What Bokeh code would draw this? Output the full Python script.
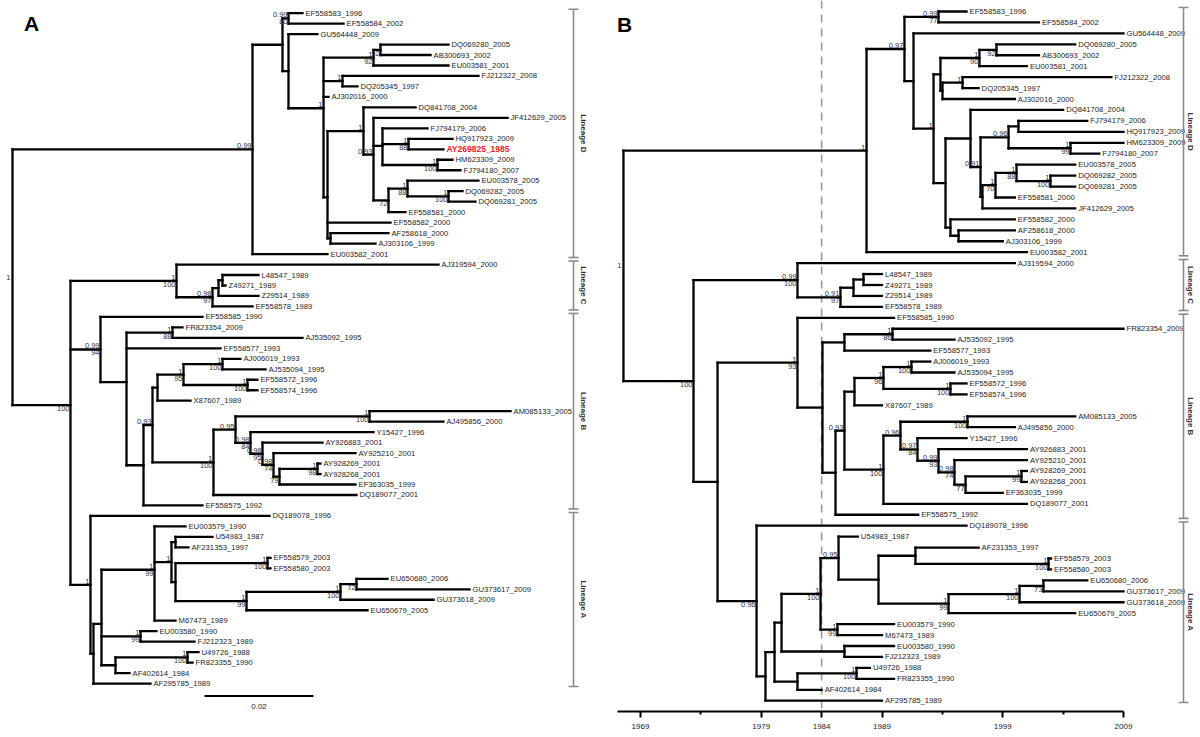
import math
from bokeh.plotting import figure
from bokeh.models import Range1d, FixedTicker
from bokeh.layouts import row
from bokeh.embed import file_html
from bokeh.resources import INLINE
from bokeh.core.properties import value


def T(name, x):
    return (name, x)


def N(x, pp, bs, *kids):
    return [x, pp, bs, list(kids)]


# ------------------------------------------------------------------ data
# Panel A: distances from root (substitutions / site)
A_LINEAGE_D = N(0.04404, "0.99", "",
    N(0.04954, "", "",
        N(0.05064, "0.99", "80", T("EF558583_1996", 0.05321), T("EF558584_2002", 0.06074)),
        N(0.05064, "", "",
            T("GU564448_2009", 0.05596),
            N(0.05707, "1", "",
                N(0.06624, "1", "92",
                    N(0.06752, "", "92", T("DQ069280_2005", 0.08000), T("AB300693_2002", 0.07670)),
                    T("EU003581_2001", 0.08000)),
                N(0.06055, "1", "", T("FJ212322_2008", 0.08550), T("DQ205345_1997", 0.06330)),
                T("AJ302016_2000", 0.05798),
                N(0.05780, "", "",
                    N(0.06440, "1", "",
                        T("DQ841708_2004", 0.07395),
                        N(0.06624, "0.93", "",
                            T("JF412629_2005", 0.09083),
                            N(0.06789, "", "",
                                T("FJ794179_2006", 0.07615),
                                N(0.07266, "1", "88", T("HQ917923_2009", 0.08073), T("AY269825_1985", 0.07908)),
                                N(0.07798, "1", "100", T("HM623309_2009", 0.08073), T("FJ794180_2007", 0.08220))),
                            N(0.06899, "", "72",
                                N(0.07248, "1", "88",
                                    T("EU003578_2005", 0.08550),
                                    N(0.08000, "1", "100", T("DQ069282_2005", 0.08257), T("DQ069281_2005", 0.08495))),
                                T("EF558581_2000", 0.07211)))),
                    T("EF558582_2000", 0.06936),
                    N(0.05835, "", "", T("AF258618_2000", 0.06899), T("AJ303106_1999", 0.06661)))))),
    T("EU003582_2001", 0.05780))

A_LINEAGE_C = N(0.03009, "1", "100",
    T("AJ319594_2000", 0.07817),
    N(0.03670, "0.98", "97",
        N(0.03780, "", "",
            N(0.03853, "", "", T("L48547_1989", 0.04514), T("Z49271_1989", 0.03908)),
            T("Z29514_1989", 0.04514)),
        T("EF558578_1989", 0.04404)))

A_LINEAGE_B = N(0.01615, "0.99", "94",
    T("EF558585_1990", 0.03486),
    N(0.02092, "", "",
        N(0.02936, "1", "88", T("FR823354_2009", 0.03119), T("AJ535092_1995", 0.05321)),
        T("EF558577_1993", 0.03817),
        N(0.02404, "", "",
            N(0.02569, "0.93", "",
                N(0.02661, "", "",
                    N(0.03138, "1", "95",
                        N(0.03853, "1", "100", T("AJ006019_1993", 0.04183), T("AJ535094_1995", 0.04642)),
                        N(0.04312, "1", "100", T("EF558572_1996", 0.04495), T("EF558574_1996", 0.04495))),
                    T("X87607_1989", 0.03266)),
                N(0.03688, "1", "100",
                    N(0.04092, "0.95", "",
                        N(0.06551, "1", "100", T("AM085133_2005", 0.09138), T("AJ495856_2000", 0.07908)),
                        N(0.04367, "0.98", "84",
                            T("Y15427_1996", 0.06624),
                            N(0.04587, "0.98", "95",
                                T("AY926883_2001", 0.05688),
                                N(0.04789, "0.98", "74",
                                    T("AY925210_2001", 0.06294),
                                    N(0.04899, "", "79",
                                        N(0.05596, "1", "98", T("AY928269_2001", 0.05651), T("AY928268_2001", 0.05651)),
                                        T("EF363035_1999", 0.06294)))))),
                    T("DQ189077_2001", 0.06312))),
            T("EF558575_1992", 0.03486))))

A_LINEAGE_A = N(0.01431, "1", "",
    T("DQ189078_1996", 0.04716),
    N(0.01486, "", "",
        N(0.01633, "", "",
            N(0.02606, "1", "99",
                T("EU003579_1990", 0.03174),
                N(0.02917, "1", "",
                    N(0.02991, "", "", T("U54983_1987", 0.03670), T("AF231353_1997", 0.03229)),
                    N(0.02991, "", "",
                        N(0.04679, "1", "100", T("EF558579_2003", 0.04734), T("EF558580_2003", 0.04734)),
                        N(0.04294, "1", "99",
                            N(0.06018, "1", "100",
                                N(0.06312, "", "72", T("EU650680_2006", 0.06881), T("GU373617_2009", 0.08385)),
                                T("GU373618_2009", 0.07725)),
                            T("EU650679_2005", 0.06514)))),
                T("M67473_1989", 0.02991)),
            N(0.02349, "1", "99", T("EU003580_1990", 0.02642), T("FJ212323_1989", 0.03339)),
            N(0.01890, "", "",
                N(0.03211, "1", "100", T("U49726_1988", 0.03413), T("FR823355_1990", 0.03303)),
                T("AF402614_1984", 0.02147))),
        T("AF295785_1989", 0.02532)))

A_ROOT = N(0.0, "1", "", A_LINEAGE_D, N(0.01064, "", "100", A_LINEAGE_C, A_LINEAGE_B, A_LINEAGE_A))

# Panel B: dated tree (calendar years)
B_LINEAGE_D = N(1987.72, "1", "",
    N(1990.86, "0.97", "",
        N(1993.68, "0.99", "77", T("EF558583_1996", 1996), T("EF558584_2002", 2002)),
        N(1991.61, "", "",
            T("GU564448_2009", 2009),
            N(1993.27, "1", "",
                N(1993.84, "", "",
                    N(1997.07, "1", "90",
                        N(1998.48, "", "92", T("DQ069280_2005", 2005), T("AB300693_2002", 2002)),
                        T("EU003581_2001", 2001)),
                    N(1994.01, "", "",
                        N(1995.67, "1", "", T("FJ212322_2008", 2008), T("DQ205345_1997", 1997)),
                        T("AJ302016_2000", 2000))),
                N(1994.26, "", "",
                    N(1996.33, "", "",
                        T("DQ841708_2004", 2004),
                        N(1997.16, "0.91", "",
                            N(1999.48, "0.96", "",
                                N(2000.30, "", "", T("FJ794179_2006", 2006), T("HQ917923_2009", 2009)),
                                N(2004.61, "1", "99", T("HM623309_2009", 2009), T("FJ794180_2007", 2007))),
                            N(1997.32, "", "",
                                N(1998.40, "1", "70",
                                    N(2000.14, "1", "88",
                                        T("EU003578_2005", 2005),
                                        N(2002.95, "1", "100", T("DQ069282_2005", 2005), T("DQ069281_2005", 2005))),
                                    T("EF558581_2000", 2000)),
                                T("JF412629_2005", 2005)))),
                    N(1994.67, "", "",
                        T("EF558582_2000", 2000),
                        N(1995.34, "", "", T("AF258618_2000", 2000), T("AJ303106_1999", 1999))))))),
    T("EU003582_2001", 2001))

B_LINEAGE_C = N(1982.0, "0.99", "100",
    T("AJ319594_2000", 2000),
    N(1985.56, "0.91", "97",
        N(1986.64, "", "",
            N(1987.47, "", "", T("L48547_1989", 1989), T("Z49271_1989", 1989)),
            T("Z29514_1989", 1989)),
        T("EF558578_1989", 1989)))

B_LINEAGE_B = N(1982.0, "1", "93",
    T("EF558585_1990", 1990),
    N(1984.07, "", "",
        N(1985.89, "", "",
            N(1989.87, "1", "86", T("FR823354_2009", 2009), T("AJ535092_1995", 1995)),
            T("EF558577_1993", 1993)),
        N(1985.15, "", "",
            N(1985.89, "0.93", "",
                N(1986.72, "", "",
                    N(1989.12, "1", "96",
                        N(1991.44, "1", "100", T("AJ006019_1993", 1993), T("AJ535094_1995", 1995)),
                        N(1994.67, "1", "100", T("EF558572_1996", 1996), T("EF558574_1996", 1996))),
                    T("X87607_1989", 1989)),
                N(1989.12, "1", "100",
                    N(1990.53, "0.96", "",
                        N(1996.08, "1", "100", T("AM085133_2005", 2005), T("AJ495856_2000", 2000)),
                        N(1991.94, "0.97", "84",
                            T("Y15427_1996", 1996),
                            N(1993.68, "0.99", "93",
                                T("AY926883_2001", 2001),
                                N(1995.0, "0.98", "74",
                                    T("AY925210_2001", 2001),
                                    N(1995.92, "", "77",
                                        N(2000.55, "1", "99", T("AY928269_2001", 2001), T("AY928268_2001", 2001)),
                                        T("EF363035_1999", 1999)))))),
                    T("DQ189077_2001", 2001))),
            T("EF558575_1992", 1992))))

B_LINEAGE_A = N(1978.61, "", "0.96",
    T("DQ189078_1996", 1996),
    N(1979.35, "", "",
        N(1980.10, "", "",
            N(1980.68, "", "",
                N(1983.91, "1", "100",
                    N(1985.40, "0.95", "",
                        T("U54983_1987", 1987),
                        N(1988.71, "", "",
                            N(1991.77, "", "",
                                T("AF231353_1997", 1997),
                                N(2002.79, "1", "100", T("EF558579_2003", 2003), T("EF558580_2003", 2003))),
                            N(1994.51, "1", "99",
                                N(2000.39, "1", "100",
                                    N(2002.37, "", "73", T("EU650680_2006", 2006), T("GU373617_2009", 2009)),
                                    T("GU373618_2009", 2009)),
                                T("EU650679_2005", 2005)))),
                    N(1985.31, "1", "99", T("EU003579_1990", 1990), T("M67473_1989", 1989))),
                N(1985.89, "", "", T("EU003580_1990", 1990), T("FJ212323_1989", 1989))),
            N(1982.0, "", "",
                N(1986.89, "1", "100", T("U49726_1988", 1988), T("FR823355_1990", 1990)),
                T("AF402614_1984", 1984))),
        T("AF295785_1989", 1989)))

B_ROOT = N(1967.59, "1", "",
    B_LINEAGE_D,
    N(1973.39, "", "100", B_LINEAGE_C, N(1975.38, "", "", B_LINEAGE_B, B_LINEAGE_A)))

LINEAGE_NAMES = ["Lineage D", "Lineage C", "Lineage B", "Lineage A"]
HIGHLIGHT = "AY269825_1985"
SCALE_BAR = 0.02
SCALE_LABEL = "0.02"
B_TICKS = [1969, 1979, 1984, 1989, 1999, 2009]
B_MINOR_TICKS = [1974, 1994, 2004]
B_CUTOFF_YEAR = 1984

# ------------------------------------------------------------------ style / layout
FONT = "Liberation Sans"
LW = 2.3
TIP_SIZE = "7.7px"
WA, WB, H = 600, 596, 733

# panel A mapping (px per unit, canvas px of root, row pitch, first row px)
A_PPU, A_X0PX, A_ROW, A_Y0PX = 109 / 0.02, 12.0, 10.8, 13.0
# panel B mapping (canvas px of 1969, row pitch, first row px, frame height)
B_PPY, B_X0PX, B_ROW, B_Y0PX, B_FRAME_H = 12.075, 40.0, 10.94, 11.0, 711


def build(root):
    tips, hs, vs, labs = [], [], [], []

    def walk(n):
        if isinstance(n, tuple):
            y = float(len(tips))
            tips.append((n[0], n[1], y))
            return n[1], y
        x, pp, bs, kids = n
        ys = []
        for k in kids:
            cx, cy = walk(k)
            hs.append((x, cx, cy))
            ys.append(cy)
        y = sum(ys) / len(ys)
        vs.append((x, min(ys), max(ys)))
        labs.append((x, y, pp, bs))
        return x, y

    walk(root)
    return tips, hs, vs, labs


def count_tips(n):
    return 1 if isinstance(n, tuple) else sum(count_tips(k) for k in n[3])


def draw_tree(p, root):
    tips, hs, vs, labs = build(root)
    p.segment(x0=[h[0] for h in hs], y0=[h[2] for h in hs], x1=[h[1] for h in hs], y1=[h[2] for h in hs],
              line_color="black", line_width=LW, line_cap="square")
    p.segment(x0=[v[0] for v in vs], y0=[v[1] for v in vs], x1=[v[0] for v in vs], y1=[v[2] for v in vs],
              line_color="black", line_width=LW, line_cap="square")
    normal = [t for t in tips if t[0] != HIGHLIGHT]
    p.text(x=[t[1] for t in normal], y=[t[2] for t in normal], text=[t[0] for t in normal],
           text_font=value(FONT), text_font_size=value(TIP_SIZE), text_color="#1e1e1e",
           text_baseline="middle", text_align="left", x_offset=3)
    hl = [t for t in tips if t[0] == HIGHLIGHT]
    if hl:
        p.text(x=[t[1] for t in hl], y=[t[2] for t in hl], text=[t[0] for t in hl],
               text_font=value(FONT), text_font_size=value("8.5px"), text_color="#e8202a",
               text_font_style="bold", text_baseline="middle", text_align="left", x_offset=3)
    root_lab = labs[-1]
    others = labs[:-1]
    pp = [l for l in others if l[2]]
    p.text(x=[l[0] for l in pp], y=[l[1] for l in pp], text=[l[2] for l in pp],
           text_font=value(FONT), text_font_size=value("7.5px"), text_color="#333333",
           text_baseline="bottom", text_align="right", x_offset=-1, y_offset=-1)
    bs = [l for l in others if l[3]]
    p.text(x=[l[0] for l in bs], y=[l[1] for l in bs], text=[l[3] for l in bs],
           text_font=value(FONT), text_font_size=value("7.5px"), text_color="#333333",
           text_baseline="top", text_align="right", x_offset=-1, y_offset=1)
    if root_lab[2]:
        p.text(x=[root_lab[0]], y=[root_lab[1]], text=[root_lab[2]],
               text_font=value(FONT), text_font_size=value("7.5px"), text_color="#333333",
               text_baseline="middle", text_align="right", x_offset=-2)


def draw_brackets(p, lineages, x_br, x_txt, cap_w, gap, pad_top, pad_bot):
    sizes = [count_tips(l) for l in lineages]
    bounds = [0]
    for s in sizes:
        bounds.append(bounds[-1] + s)
    n = len(sizes)
    x0, y0, x1, y1, centers = [], [], [], [], []
    for i in range(n):
        top = -pad_top if i == 0 else bounds[i] - 0.5 + gap
        bot = bounds[-1] - 1 + pad_bot if i == n - 1 else bounds[i + 1] - 0.5 - gap
        x0 += [x_br, x_br - cap_w, x_br - cap_w]
        x1 += [x_br, x_br + cap_w, x_br + cap_w]
        y0 += [top, top, bot]
        y1 += [bot, top, bot]
        centers.append((top + bot) / 2)
    p.segment(x0=x0, y0=y0, x1=x1, y1=y1, line_color="#8a8a8a", line_width=1.6)
    p.text(x=[x_txt] * n, y=centers, text=LINEAGE_NAMES, angle=-math.pi / 2,
           text_font=value(FONT), text_font_size=value("8px"), text_font_style="bold",
           text_color="#333333", text_align="center", text_baseline="middle")


def base_fig(w, xr, yr, **kw):
    p = figure(width=w, height=H, x_range=xr, y_range=yr, output_backend="svg",
               toolbar_location=None, **kw)
    p.grid.visible = False
    p.outline_line_color = None
    p.background_fill_color = "white"
    p.border_fill_color = "white"
    return p


# ------------------------------------------------------------------ panel A
a_xr = Range1d(-A_X0PX / A_PPU, (WA - A_X0PX) / A_PPU)
a_yr = Range1d((H - A_Y0PX) / A_ROW, -A_Y0PX / A_ROW)
pA = base_fig(WA, a_xr, a_yr, min_border=0, x_axis_location=None, y_axis_location=None)
draw_tree(pA, A_ROOT)
A_pxx = lambda c: (c - A_X0PX) / A_PPU
A_pxy = lambda c: (c - A_Y0PX) / A_ROW
draw_brackets(pA, [A_LINEAGE_D, A_LINEAGE_C, A_LINEAGE_B, A_LINEAGE_A],
              A_pxx(573), A_pxx(583), 5 / A_PPU, 0.17, 0.37, 0.28)
# scale bar
sb_x = A_pxx(204)
pA.segment(x0=[sb_x], y0=[A_pxy(717)], x1=[sb_x + SCALE_BAR], y1=[A_pxy(717)],
           line_color="black", line_width=2.2)
pA.text(x=[sb_x + SCALE_BAR / 2], y=[A_pxy(725)], text=[SCALE_LABEL], text_font=value(FONT),
        text_font_size=value("8px"), text_color="#222222", text_align="center", text_baseline="top")
pA.text(x=[A_pxx(31)], y=[A_pxy(24)], text=["A"], text_font=value(FONT), text_font_size=value("21px"),
        text_font_style="bold", text_color="black", text_align="center", text_baseline="middle")

# ------------------------------------------------------------------ panel B
b_xr = Range1d(1969 - B_X0PX / B_PPY, 1969 + (WB - B_X0PX) / B_PPY)
b_yr = Range1d((B_FRAME_H - B_Y0PX) / B_ROW, -B_Y0PX / B_ROW)
pB = base_fig(WB, b_xr, b_yr, min_border_left=0, min_border_right=0, min_border_top=0,
              min_border_bottom=H - B_FRAME_H, y_axis_location=None)
B_pxx = lambda c: 1969 + (c - B_X0PX) / B_PPY
B_pxy = lambda c: (c - B_Y0PX) / B_ROW
pB.segment(x0=[B_CUTOFF_YEAR], y0=[b_yr.end], x1=[B_CUTOFF_YEAR], y1=[b_yr.start],
           line_color="#9a9a9a", line_width=1.6, line_dash="8 6")
draw_tree(pB, B_ROOT)
draw_brackets(pB, [B_LINEAGE_D, B_LINEAGE_C, B_LINEAGE_B, B_LINEAGE_A],
              B_pxx(583), B_pxx(590), 5 / B_PPY, 0.17, 0.37, 0.16)
pB.text(x=[B_pxx(24)], y=[B_pxy(24)], text=["B"], text_font=value(FONT), text_font_size=value("21px"),
        text_font_style="bold", text_color="black", text_align="center", text_baseline="middle")

ax = pB.xaxis[0]
ax.ticker = FixedTicker(ticks=B_TICKS, minor_ticks=B_MINOR_TICKS)
ax.bounds = (B_pxx(17), max(B_TICKS))
ax.axis_line_width = 2
ax.axis_line_color = "black"
ax.major_tick_line_width = 2
ax.minor_tick_line_width = 2
ax.major_tick_in = 0
ax.major_tick_out = 6
ax.minor_tick_in = 0
ax.minor_tick_out = 3
ax.major_label_standoff = 6
ax.major_label_text_font = FONT
ax.major_label_text_font_size = "8px"
ax.major_label_text_color = "#222222"

layout = row(pA, pB)
open("out.html", "w").write(file_html(layout, INLINE))
